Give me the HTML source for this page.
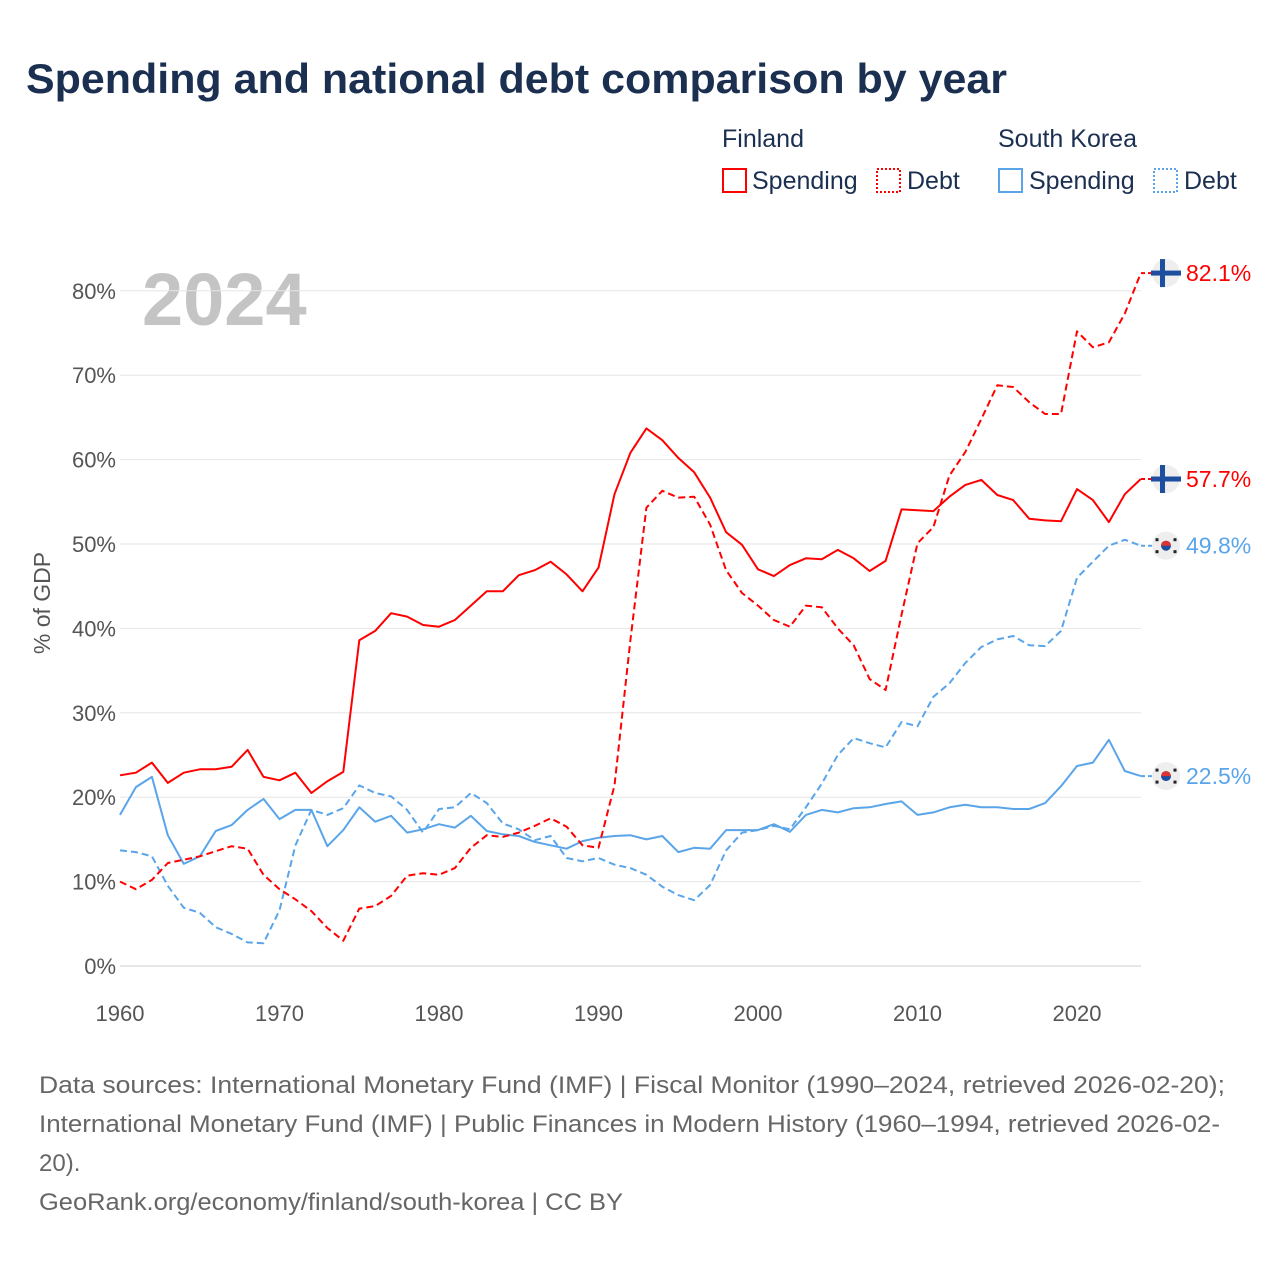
<!DOCTYPE html>
<html><head><meta charset="utf-8">
<style>
body{margin:0;background:#fff;width:1280px;height:1280px;overflow:hidden;font-family:"Liberation Sans",sans-serif;}
svg text{font-family:"Liberation Sans",sans-serif;}
</style></head>
<body>
<svg id="chart" width="1280" height="1280" viewBox="0 0 1280 1280" xmlns="http://www.w3.org/2000/svg">
<text x="26" y="93" font-size="42" font-weight="bold" fill="#1b2f50" textLength="981" lengthAdjust="spacingAndGlyphs">Spending and national debt comparison by year</text>
<g font-size="25" fill="#1b2f50">
<text x="722" y="147">Finland</text>
<text x="998" y="147">South Korea</text>
<g><rect x="723" y="169" width="23" height="23" fill="none" stroke="#f00" stroke-width="2"/><text x="752" y="189">Spending</text></g>
<g><rect x="877" y="169" width="23" height="23" fill="none" stroke="#f00" stroke-width="2" stroke-dasharray="2,2"/><text x="907" y="189">Debt</text></g>
<g><rect x="999" y="169" width="23" height="23" fill="none" stroke="#5aa5ea" stroke-width="2"/><text x="1029" y="189">Spending</text></g>
<g><rect x="1154" y="169" width="23" height="23" fill="none" stroke="#5aa5ea" stroke-width="2" stroke-dasharray="2,2"/><text x="1184" y="189">Debt</text></g>
</g>
<text x="142" y="325" font-size="74" font-weight="bold" fill="#c4c4c4">2024</text>
<text transform="translate(50,603) rotate(-90)" text-anchor="middle" font-size="23" fill="#555">% of GDP</text>
<g id="grid"></g>
<g id="series"></g>
<g id="endlabels"></g>
<g font-size="24" fill="#666">
<text x="39" y="1093" textLength="1186" lengthAdjust="spacingAndGlyphs">Data sources: International Monetary Fund (IMF) | Fiscal Monitor (1990–2024, retrieved 2026-02-20);</text>
<text x="39" y="1132" textLength="1181" lengthAdjust="spacingAndGlyphs">International Monetary Fund (IMF) | Public Finances in Modern History (1960–1994, retrieved 2026-02-</text>
<text x="39" y="1171">20).</text>
<text x="39" y="1210" textLength="584" lengthAdjust="spacingAndGlyphs">GeoRank.org/economy/finland/south-korea | CC BY</text>
</g>
</svg>
<script>
const startYear = 1960;
const yTicks = [0,10,20,30,40,50,60,70,80];
const xTicks = [1960,1970,1980,1990,2000,2010,2020];
const finSpending = [22.6,22.9,24.1,21.7,22.9,23.3,23.3,23.6,25.6,22.4,22.0,22.9,20.5,21.9,23.0,38.6,39.7,41.8,41.4,40.4,40.2,41.0,42.7,44.4,44.4,46.3,46.9,47.9,46.4,44.4,47.2,55.9,60.8,63.7,62.3,60.2,58.5,55.5,51.4,49.9,47.0,46.2,47.5,48.3,48.2,49.3,48.3,46.8,48.0,54.1,54.0,53.9,55.6,57.0,57.6,55.8,55.2,53.0,52.8,52.7,56.5,55.2,52.6,55.9,57.7];
const finDebt = [10.0,9.1,10.2,12.2,12.6,13.0,13.6,14.2,13.9,10.8,9.1,7.9,6.5,4.5,3.0,6.8,7.1,8.3,10.7,11.0,10.8,11.6,14.0,15.5,15.3,15.8,16.6,17.5,16.5,14.3,14.0,21.4,38.6,54.3,56.3,55.5,55.6,52.3,46.9,44.2,42.7,41.0,40.2,42.7,42.5,40.0,38.0,34.0,32.7,41.6,50.1,52.0,58.1,60.9,64.8,68.8,68.6,66.8,65.4,65.4,75.2,73.3,73.9,77.3,82.1];
const korSpending = [17.9,21.2,22.4,15.5,12.1,13.0,16.0,16.7,18.5,19.8,17.4,18.5,18.5,14.2,16.1,18.8,17.1,17.8,15.8,16.2,16.8,16.4,17.8,16.0,15.6,15.4,14.7,14.3,13.9,14.8,15.2,15.4,15.5,15.0,15.4,13.5,14.0,13.9,16.1,16.1,16.1,16.8,15.9,17.9,18.5,18.2,18.7,18.8,19.2,19.5,17.9,18.2,18.8,19.1,18.8,18.8,18.6,18.6,19.3,21.3,23.7,24.1,26.8,23.1,22.5];
const korDebt = [13.7,13.5,13.0,9.5,6.9,6.3,4.6,3.8,2.8,2.7,6.6,14.3,18.5,17.9,18.7,21.4,20.5,20.1,18.5,15.8,18.6,18.8,20.5,19.3,16.9,16.2,14.9,15.4,12.8,12.4,12.8,12.0,11.6,10.8,9.4,8.4,7.8,9.6,13.7,15.8,16.1,16.6,16.2,18.8,21.6,25.0,27.0,26.4,25.9,28.9,28.4,31.9,33.5,35.9,37.8,38.7,39.1,38.0,37.9,39.7,46.0,47.9,49.8,50.5,49.8];

const NS='http://www.w3.org/2000/svg';
const xScale = yr => 120 + (yr-1960)*(957/60);
const yScale = v => 966 - v*8.44;
function mk(tag, attrs, parent){const e=document.createElementNS(NS,tag);for(const k in attrs)e.setAttribute(k,attrs[k]);parent.appendChild(e);return e;}
const grid=document.getElementById('grid');
yTicks.forEach(t=>{
  const l=mk('line',{x1:120,x2:1141,y1:yScale(t),y2:yScale(t),stroke:t===0?'#ccc':'#e6e6e6','stroke-width':1},grid);
  
  
  const tx=mk('text',{x:116,y:yScale(t)+8,'text-anchor':'end','font-size':22,fill:'#555'},grid);
  tx.textContent=t+'%';
  
  
});
xTicks.forEach(t=>{
  const tx=mk('text',{x:xScale(t),y:1021,'text-anchor':'middle','font-size':22,fill:'#555'},grid);
  tx.textContent=t;
  
  
});
const series=document.getElementById('series');
function drawLine(arr,color,dash,name){
  const d=arr.map((v,i)=>(i?'L':'M')+xScale(startYear+i).toFixed(1)+','+yScale(v).toFixed(1)).join('');
  const p=mk('path',{d:d,fill:'none',stroke:color,'stroke-width':2,'stroke-linejoin':'round'},series);
  if(dash)p.setAttribute('stroke-dasharray','7,4');
  
  
}
drawLine(korDebt,'#5aa5ea',true,'korea-debt-line');
drawLine(korSpending,'#5aa5ea',false,'korea-spending-line');
drawLine(finDebt,'#f00',true,'finland-debt-line');
drawLine(finSpending,'#f00',false,'finland-spending-line');
const el=document.getElementById('endlabels');
function endLabel(arr,color,flag,name){
  const v=arr[arr.length-1];const y=yScale(v);
  mk('line',{x1:1141,x2:1152,y1:y,y2:y,stroke:color,'stroke-width':2,'stroke-dasharray':'4,3'},el);
  const g=mk('g',{},el);
  
  
  mk('circle',{cx:1166,cy:y,r:14,fill:'#eee'},g);
  if(flag==='fi'){
    mk('rect',{x:1151,y:y-2.5,width:30,height:5,fill:'#1d4ea0'},g);
    mk('rect',{x:1160,y:y-14,width:5,height:28,fill:'#1d4ea0'},g);
  }else{
    mk('circle',{cx:1166,cy:y,r:5,fill:'#1d4ea0'},g);
    mk('path',{d:`M1161,${y} a5,5 0 0 1 10,0z`,fill:'#d33'},g);
    [[1157,y-6],[1175,y-6],[1157,y+6],[1175,y+6]].forEach(p=>mk('rect',{x:p[0]-1.5,y:p[1]-1.5,width:3,height:3,fill:'#222'},g));
  }
  const t=mk('text',{x:1186,y:y+8,'font-size':23,fill:color},el);
  t.textContent=v.toFixed(1)+'%';
  
  
}
endLabel(finDebt,'#f00','fi','finland-debt');
endLabel(finSpending,'#f00','fi','finland-spending');
endLabel(korDebt,'#5aa5ea','kr','korea-debt');
endLabel(korSpending,'#5aa5ea','kr','korea-spending');
</script>
</body></html>
